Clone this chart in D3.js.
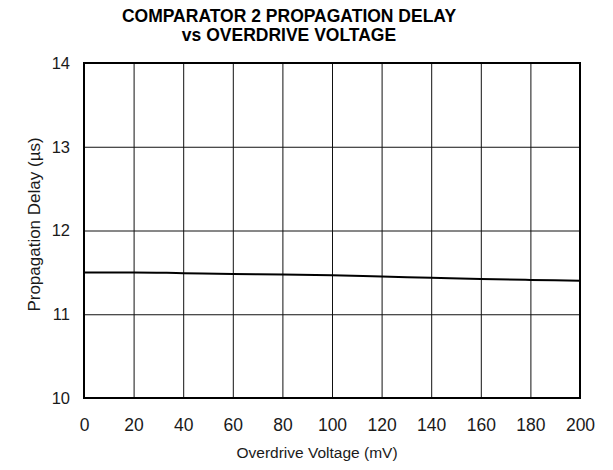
<!DOCTYPE html>
<html>
<head>
<meta charset="utf-8">
<script src="https://cdn.jsdelivr.net/npm/d3@7"></script>
<style>
  body { margin: 0; background: #fff; }
  svg { display: block; font-family: "Liberation Sans", Arial, Helvetica, sans-serif; }
</style>
</head>
<body>
<div id="chart"></div>
<script>
// data
const overdriveVoltage = [0, 20, 40, 60, 80, 100, 120, 140, 160, 180, 200];
const propagationDelay = [11.50, 11.50, 11.49, 11.48, 11.475, 11.465, 11.45, 11.435, 11.42, 11.41, 11.40];
const xTicks = [0, 20, 40, 60, 80, 100, 120, 140, 160, 180, 200];
const yTicks = [10, 11, 12, 13, 14];
const titleLines = ["COMPARATOR 2 PROPAGATION DELAY", "vs OVERDRIVE VOLTAGE"];
const xLabelText = "Overdrive Voltage (mV)";
const yLabelText = "Propagation Delay (\u00b5s)";

// variables for the chart
let margin = null,
    width = null,
    height = null;
let svg = null;
let x = null,
    y = null;

renderChart();

function renderChart() {
  setupCanvasSize();
  appendSvg("#chart");
  setupScales();
  appendGrid();
  appendCurve();
  appendFrame();
  appendTickLabels();
  appendLabels();
  appendTitle();
}

/**
 * @method setupCanvasSize
 * @description Sets margin, width and height of the plot area
 */
function setupCanvasSize() {
  margin = {top: 63, left: 84, bottom: 72, right: 33};
  width = 613 - margin.left - margin.right;
  height = 470 - margin.top - margin.bottom;
}

function appendSvg(domElement) {
  svg = d3.select(domElement)
    .append("svg")
    .attr("width", 613)
    .attr("height", 470)
    .append("g")
    .attr("transform", `translate(${margin.left}, ${margin.top})`);
}

function setupScales() {
  x = d3.scaleLinear().domain([0, 200]).range([0, width]);
  y = d3.scaleLinear().domain([10, 14]).range([height, 0]);
}

/**
 * @method appendGrid
 * @description Thin vertical and horizontal grid lines at every tick
 */
function appendGrid() {
  svg.append("g")
    .attr("class", "grid x")
    .attr("transform", `translate(0, ${height})`)
    .call(d3.axisBottom(x).tickValues(xTicks).tickSize(-height).tickFormat(""))
    .call(g => g.select(".domain").remove())
    .call(g => g.selectAll("line").attr("stroke", "#111").attr("stroke-width", 1));

  svg.append("g")
    .attr("class", "grid y")
    .call(d3.axisLeft(y).tickValues(yTicks).tickSize(-width).tickFormat(""))
    .call(g => g.select(".domain").remove())
    .call(g => g.selectAll("line").attr("stroke", "#111").attr("stroke-width", 1));
}

function appendCurve() {
  let line = d3.line()
    .x((d, i) => x(overdriveVoltage[i]))
    .y(d => y(d))
    .curve(d3.curveMonotoneX);

  svg.append("path")
    .datum(propagationDelay)
    .attr("fill", "none")
    .attr("stroke", "#000")
    .attr("stroke-width", 2)
    .attr("d", line);
}

function appendFrame() {
  svg.append("rect")
    .attr("x", 0)
    .attr("y", 0)
    .attr("width", width)
    .attr("height", height)
    .attr("fill", "none")
    .attr("stroke", "#000")
    .attr("stroke-width", 2);
}

/**
 * @method appendTickLabels
 * @description Tick numbers, drawn with the axis generators but without lines
 */
function appendTickLabels() {
  let xAxis = svg.append("g")
    .attr("transform", `translate(0, ${height})`)
    .call(d3.axisBottom(x).tickValues(xTicks).tickSize(0).tickPadding(21).tickFormat(d3.format("d")));
  xAxis.select(".domain").remove();
  xAxis.selectAll("text")
    .attr("font-family", "Liberation Sans, Arial, sans-serif")
    .attr("font-size", 17.5)
    .attr("fill", "#1a1a1a");

  let yAxis = svg.append("g")
    .call(d3.axisLeft(y).tickValues(yTicks).tickSize(0).tickPadding(14).tickFormat(d3.format("d")));
  yAxis.select(".domain").remove();
  yAxis.selectAll("text")
    .attr("font-family", "Liberation Sans, Arial, sans-serif")
    .attr("font-size", 16.5)
    .attr("fill", "#1a1a1a");
}

function appendLabels() {
  // the x label sits a little left of the plot centre in the original
  svg.append("text")
    .attr("x", width / 2 - 15)
    .attr("y", height + 60)
    .attr("text-anchor", "middle")
    .attr("font-size", 15.5)
    .attr("fill", "#1a1a1a")
    .text(xLabelText);

  svg.append("text")
    .attr("transform", "rotate(-90)")
    .attr("x", -height / 2 + 6)
    .attr("y", -44)
    .attr("text-anchor", "middle")
    .attr("font-size", 17)
    .attr("fill", "#1a1a1a")
    .text(yLabelText);
}

function appendTitle() {
  svg.selectAll(".title")
    .data(titleLines)
    .enter()
    .append("text")
    .attr("class", "title")
    .attr("x", 205)
    .attr("y", (d, i) => -41 + i * 19)
    .attr("text-anchor", "middle")
    .attr("font-size", 17.5)
    .attr("font-weight", "bold")
    .attr("fill", "#000")
    .text(d => d);
}
</script>
</body>
</html>
